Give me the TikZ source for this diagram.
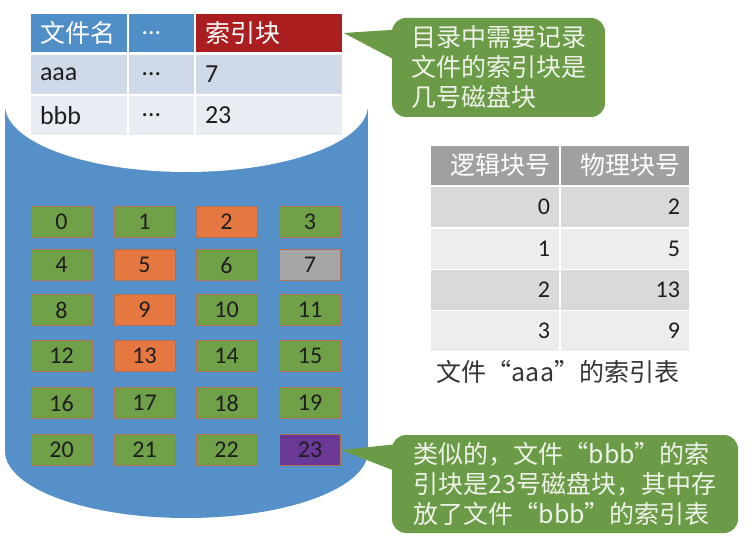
\documentclass[tikz,border=0pt]{standalone}
\usepackage{fontspec}
\setmainfont{Carlito}
\newfontfamily\cjk{Noto Sans CJK SC}
\usetikzlibrary{calc}
\definecolor{cylblue}{RGB}{85,144,200}
\definecolor{bgreen}{RGB}{112,160,72}
\definecolor{borange}{RGB}{228,120,64}
\definecolor{bgray}{RGB}{166,166,166}
\definecolor{bpurple}{RGB}{106,56,150}
\definecolor{bborder}{RGB}{176,112,84}
\definecolor{hblue}{RGB}{80,142,200}
\definecolor{hred}{RGB}{170,30,32}
\definecolor{rowA}{RGB}{207,217,232}
\definecolor{rowB}{RGB}{232,236,243}
\definecolor{ggray}{RGB}{160,160,160}
\definecolor{grA}{RGB}{217,217,217}
\definecolor{grB}{RGB}{237,237,237}
\definecolor{cgreen}{RGB}{108,155,72}
\definecolor{ctext}{RGB}{238,242,232}
\definecolor{ink}{RGB}{30,30,30}
\begin{document}
\begin{tikzpicture}[x=1pt,y=-1pt,
  blk/.style={draw=bborder, line width=0.6pt, minimum width=61pt, minimum height=31pt, inner sep=0pt, text=ink, font=\fontsize{24}{24}\selectfont},
  cell/.style={draw=white, line width=1.5pt, inner xsep=10pt, inner ysep=0pt, minimum height=#1, anchor=center},
  hcell/.style={text=white, font=\cjk\fontsize{25}{25}\selectfont},
  bcell/.style={text=ink, font=\fontsize{26}{26}\selectfont},
  rcell/.style={text=ink, font=\fontsize{24}{24}\selectfont, align=right, text width=110pt},
  rhead/.style={text=white, font=\cjk\fontsize{25}{25}\selectfont, align=right, text width=110pt},
  callbox/.style={fill=cgreen, rounded corners=14pt, text=ctext, align=left, inner sep=0pt, font=\cjk\fontsize{25}{30}\selectfont},
  ptr/.style={fill=cgreen}
]
\useasboundingbox (0,0) rectangle (750,553);
\fill[white] (0,0) rectangle (750,553);

% cylinder
\fill[cylblue] (5,105) rectangle (368,451);
\fill[cylblue] (186.5,451) ellipse [x radius=181.5, y radius=67];
\fill[white] (186.5,105) ellipse [x radius=181.5, y radius=67];

% directory table
\node[cell=40pt, fill=hblue, hcell, text width=78pt, align=left] (h1) at (79,33) {文件名};
\node[cell=40pt, fill=hblue, text=white, font=\fontsize{26}{26}\selectfont, text width=47pt, align=left] (h2) at (161.5,33) {\,…};
\node[cell=40pt, fill=hred, hcell, text width=128pt, align=left] (idx) at (269,33) {索引块};
\node[cell=41pt, fill=rowA, bcell, text width=78pt, align=left] (a1) at (79,74.5) {aaa};
\node[cell=41pt, fill=rowA, bcell, text width=47pt, align=left] (a2) at (161.5,74.5) {\,…};
\node[cell=41pt, fill=rowA, bcell, text width=128pt, align=left] (a3) at (269,74.5) {7};
\node[cell=41pt, fill=rowB, bcell, text width=78pt, align=left] (b1) at (79,115.5) {bbb};
\node[cell=41pt, fill=rowB, bcell, text width=47pt, align=left] (b2) at (161.5,115.5) {\,…};
\node[cell=41pt, fill=rowB, bcell, text width=128pt, align=left] (b3) at (269,115.5) {23};

% disk blocks
\foreach \n/\c/\x/\y in {
  0/bgreen/61.5/222, 1/bgreen/144.5/222, 2/borange/226.5/222, 3/bgreen/310/222,
  4/bgreen/61.5/265, 5/borange/144.5/265, 6/bgreen/226.5/265, 7/bgray/310/265,
  8/bgreen/61.5/310, 9/borange/144.5/310, 10/bgreen/226.5/310, 11/bgreen/310/310,
  12/bgreen/61.5/356, 13/borange/144.5/356, 14/bgreen/226.5/356, 15/bgreen/310/356,
  16/bgreen/61.5/403, 17/bgreen/144.5/403, 18/bgreen/226.5/403, 19/bgreen/310/403,
  20/bgreen/61.5/450, 21/bgreen/144.5/450, 22/bgreen/226.5/450, 23/bpurple/310/450}
  \node[blk, fill=\c] (blk\n) at (\x,\y) {\n};

% index table of aaa
\node[cell=41pt, fill=ggray, rhead] (g1) at (495,165.5) {逻辑块号};
\node[cell=41pt, fill=ggray, rhead] (g2) at (625,165.5) {物理块号};
\node[cell=42pt, fill=grA, rcell] (r0a) at (495,207) {0};
\node[cell=42pt, fill=grA, rcell] (r0b) at (625,207) {2};
\node[cell=42pt, fill=grB, rcell] (r1a) at (495,249) {1};
\node[cell=42pt, fill=grB, rcell] (r1b) at (625,249) {5};
\node[cell=41pt, fill=grA, rcell] (r2a) at (495,290) {2};
\node[cell=41pt, fill=grA, rcell] (r2b) at (625,290) {13};
\node[cell=41pt, fill=grB, rcell] (r3a) at (495,331) {3};
\node[cell=41pt, fill=grB, rcell] (r3b) at (625,331) {9};
\node[text=ink!90, font=\cjk\fontsize{25}{25}\selectfont] (cap) at (558,372) {文件“aaa”的索引表};

% callout 1
\node[callbox, minimum width=213pt, minimum height=99pt] (c1) at (498.5,67.5)
  {目录中需要记录\\文件的索引块是\\几号磁盘块};
\fill[ptr] (idx.east) -- ($(c1.west)+(6,-38)$) -- ($(c1.west)+(6,-6)$) -- cycle;

% callout 2
\node[callbox, minimum width=346pt, minimum height=98pt] (c2) at (565,484)
  {类似的，文件“bbb”的索\\引块是23号磁盘块，其中存\\放了文件“bbb”的索引表};
\fill[ptr] (blk23.east) -- ($(c2.west)+(6,-40)$) -- ($(c2.west)+(6,-12)$) -- cycle;
\end{tikzpicture}
\end{document}
